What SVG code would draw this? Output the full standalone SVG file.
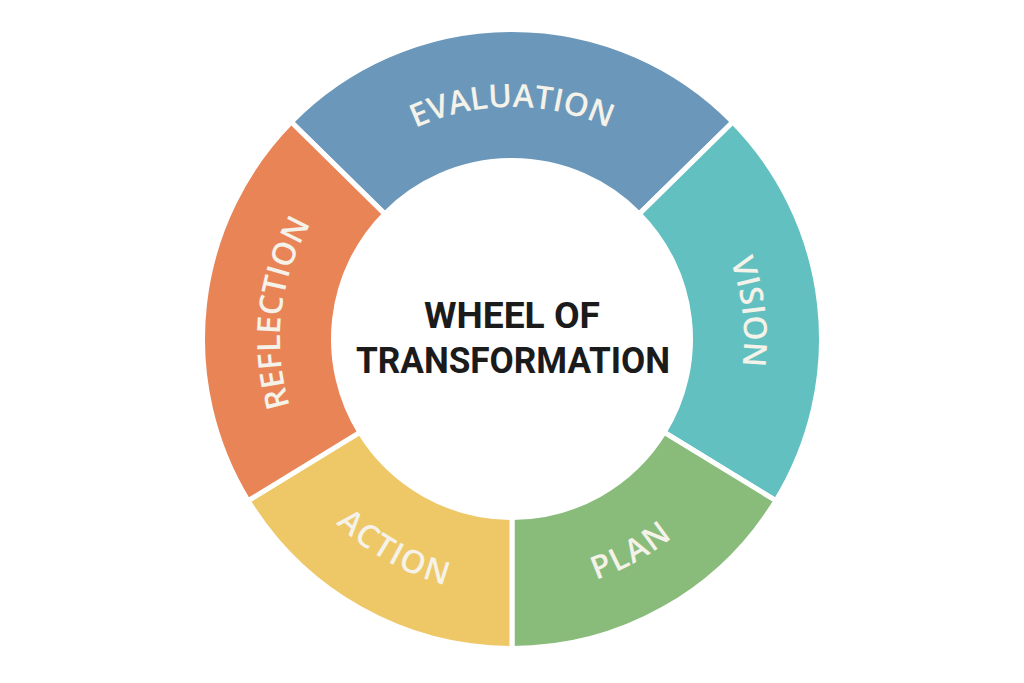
<svg xmlns="http://www.w3.org/2000/svg" xmlns:xlink="http://www.w3.org/1999/xlink" width="1024" height="683" viewBox="0 0 1024 683">
  <defs>
    <style>
      .seg { stroke: #ffffff; stroke-width: 5; stroke-linejoin: miter; }
      .lbl { font-family: "Open Sans", "Liberation Sans", sans-serif; font-weight: 600; font-size: 32px; fill: #F4F2E9; letter-spacing: 0px; }
      .sp { letter-spacing: 1.5px; }
      .ttl { font-family: "Roboto", "Liberation Sans", sans-serif; font-weight: 700; font-size: 36px; fill: #1B1B1B; text-anchor: middle; }
    </style>
    <path id="pEval" d="M 346.53 176.39 A 232 232 0 0 1 677.47 176.39"/>
    <path id="pVision" d="M 677.47 176.39 A 232 232 0 0 1 709.81 460.22"/>
    <path id="pRefl" d="M 314.19 460.22 A 232 232 0 0 1 346.53 176.39"/>
    <path id="pPlan" d="M 512 594 A 255 255 0 0 0 729.42 472.24"/>
    <path id="pAction" d="M 294.58 472.24 A 255 255 0 0 0 512 594"/>
  </defs>
  <rect width="1024" height="683" fill="#ffffff"/>

  <g id="evaluation">
    <path class="seg" fill="#6B98BA" d="M 291.25 122.07 A 309.5 309.5 0 0 1 732.75 122.07 L 639.32 213.89 A 178.5 178.5 0 0 0 384.68 213.89 Z"/>
    <text class="lbl"><textPath xlink:href="#pEval" href="#pEval" startOffset="50%" text-anchor="middle">EVALUATION</textPath></text>
  </g>

  <g id="vision">
    <path class="seg" fill="#62C0C0" d="M 732.75 122.07 A 309.5 309.5 0 0 1 775.89 500.71 L 664.20 432.27 A 178.5 178.5 0 0 0 639.32 213.89 Z"/>
    <text class="lbl"><textPath xlink:href="#pVision" href="#pVision" startOffset="50%" text-anchor="middle">VISION</textPath></text>
  </g>

  <g id="plan">
    <path class="seg" fill="#89BC7A" d="M 775.89 500.71 A 309.5 309.5 0 0 1 512 648.5 L 512 517.5 A 178.5 178.5 0 0 0 664.20 432.27 Z"/>
    <text class="lbl sp"><textPath xlink:href="#pPlan" href="#pPlan" startOffset="50%" text-anchor="middle">PLAN</textPath></text>
  </g>

  <g id="action">
    <path class="seg" fill="#EEC766" d="M 512 648.5 A 309.5 309.5 0 0 1 248.11 500.71 L 359.80 432.27 A 178.5 178.5 0 0 0 512 517.5 Z"/>
    <text class="lbl sp"><textPath xlink:href="#pAction" href="#pAction" startOffset="50%" text-anchor="middle">ACTION</textPath></text>
  </g>

  <g id="reflection">
    <path class="seg" fill="#E98457" d="M 248.11 500.71 A 309.5 309.5 0 0 1 291.25 122.07 L 384.68 213.89 A 178.5 178.5 0 0 0 359.80 432.27 Z"/>
    <text class="lbl"><textPath xlink:href="#pRefl" href="#pRefl" startOffset="50%" text-anchor="middle">REFLECTION</textPath></text>
  </g>

  <g id="center">
    <text class="ttl" x="512" y="328" textLength="176" lengthAdjust="spacingAndGlyphs">WHEEL OF</text>
    <text class="ttl" x="513" y="373" textLength="314" lengthAdjust="spacingAndGlyphs">TRANSFORMATION</text>
  </g>

  <g id="connectors"></g>
</svg>
